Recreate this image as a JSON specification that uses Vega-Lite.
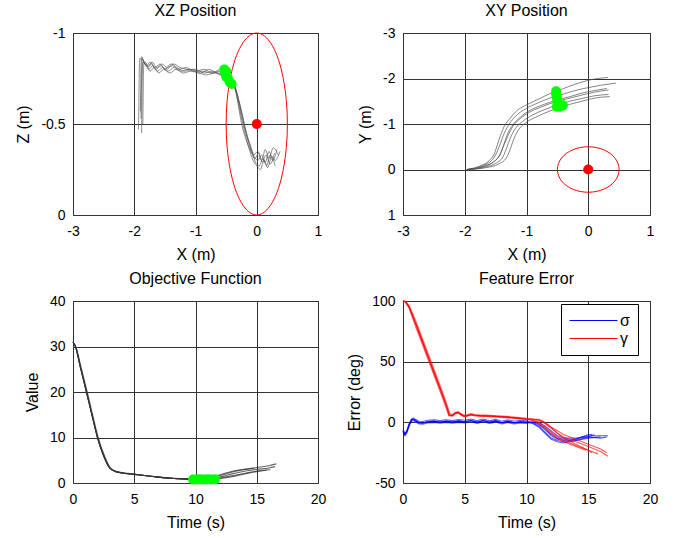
{
"$schema": "https://vega.github.io/schema/vega-lite/v6.json",
"padding": {"left": 15, "top": 2, "right": 5, "bottom": 5},
"columns": 2,
"spacing": {"row": 86, "column": 85},
"bounds": "flush",
"align": "each",
"resolve": {"scale": {"color": "independent"}, "legend": {"color": "independent"}},
"datasets": {
"xz": [
{"k":1,"i":0,"x":-1.93,"z":-0.47},{"k":1,"i":1,"x":-1.925,"z":-0.6},{"k":1,"i":2,"x":-1.92,"z":-0.75},{"k":1,"i":3,"x":-1.91,"z":-0.86},{"k":1,"i":4,"x":-1.86,"z":-0.85},{"k":1,"i":5,"x":-1.78,"z":-0.81},{"k":1,"i":6,"x":-1.72,"z":-0.83},{"k":1,"i":7,"x":-1.65,"z":-0.8},{"k":1,"i":8,"x":-1.56,"z":-0.82},{"k":1,"i":9,"x":-1.48,"z":-0.8},{"k":1,"i":10,"x":-1.38,"z":-0.82},{"k":1,"i":11,"x":-1.28,"z":-0.8},{"k":1,"i":12,"x":-1.15,"z":-0.81},{"k":1,"i":13,"x":-1.02,"z":-0.79},{"k":1,"i":14,"x":-0.88,"z":-0.79},{"k":1,"i":15,"x":-0.74,"z":-0.78},{"k":1,"i":16,"x":-0.6,"z":-0.79},{"k":1,"i":17,"x":-0.48,"z":-0.77},{"k":1,"i":18,"x":-0.4,"z":-0.73},{"k":1,"i":19,"x":-0.34,"z":-0.69},{"k":1,"i":20,"x":-0.28,"z":-0.61},{"k":1,"i":21,"x":-0.22,"z":-0.52},{"k":1,"i":22,"x":-0.16,"z":-0.44},{"k":1,"i":23,"x":-0.1,"z":-0.38},{"k":1,"i":24,"x":-0.04,"z":-0.32},{"k":1,"i":25,"x":0.02,"z":-0.3},{"k":1,"i":26,"x":0.08,"z":-0.33},{"k":1,"i":27,"x":0.14,"z":-0.29},{"k":1,"i":28,"x":0.2,"z":-0.35},{"k":1,"i":29,"x":0.26,"z":-0.3},{"k":1,"i":30,"x":0.33,"z":-0.36},
{"k":2,"i":0,"x":-1.88,"z":-0.45},{"k":2,"i":1,"x":-1.875,"z":-0.6},{"k":2,"i":2,"x":-1.87,"z":-0.76},{"k":2,"i":3,"x":-1.86,"z":-0.84},{"k":2,"i":4,"x":-1.82,"z":-0.84},{"k":2,"i":5,"x":-1.76,"z":-0.8},{"k":2,"i":6,"x":-1.7,"z":-0.82},{"k":2,"i":7,"x":-1.62,"z":-0.79},{"k":2,"i":8,"x":-1.54,"z":-0.81},{"k":2,"i":9,"x":-1.45,"z":-0.79},{"k":2,"i":10,"x":-1.35,"z":-0.81},{"k":2,"i":11,"x":-1.24,"z":-0.79},{"k":2,"i":12,"x":-1.12,"z":-0.8},{"k":2,"i":13,"x":-1.0,"z":-0.8},{"k":2,"i":14,"x":-0.86,"z":-0.78},{"k":2,"i":15,"x":-0.72,"z":-0.79},{"k":2,"i":16,"x":-0.58,"z":-0.77},{"k":2,"i":17,"x":-0.46,"z":-0.76},{"k":2,"i":18,"x":-0.38,"z":-0.72},{"k":2,"i":19,"x":-0.32,"z":-0.66},{"k":2,"i":20,"x":-0.26,"z":-0.57},{"k":2,"i":21,"x":-0.2,"z":-0.48},{"k":2,"i":22,"x":-0.14,"z":-0.41},{"k":2,"i":23,"x":-0.08,"z":-0.35},{"k":2,"i":24,"x":-0.02,"z":-0.29},{"k":2,"i":25,"x":0.04,"z":-0.27},{"k":2,"i":26,"x":0.1,"z":-0.31},{"k":2,"i":27,"x":0.16,"z":-0.27},{"k":2,"i":28,"x":0.22,"z":-0.33},{"k":2,"i":29,"x":0.3,"z":-0.3},{"k":2,"i":30,"x":0.38,"z":-0.35},
{"k":3,"i":0,"x":-1.9,"z":-0.57},{"k":3,"i":1,"x":-1.895,"z":-0.68},{"k":3,"i":2,"x":-1.89,"z":-0.8},{"k":3,"i":3,"x":-1.88,"z":-0.87},{"k":3,"i":4,"x":-1.84,"z":-0.84},{"k":3,"i":5,"x":-1.8,"z":-0.82},{"k":3,"i":6,"x":-1.74,"z":-0.84},{"k":3,"i":7,"x":-1.66,"z":-0.81},{"k":3,"i":8,"x":-1.58,"z":-0.83},{"k":3,"i":9,"x":-1.5,"z":-0.8},{"k":3,"i":10,"x":-1.4,"z":-0.83},{"k":3,"i":11,"x":-1.3,"z":-0.81},{"k":3,"i":12,"x":-1.18,"z":-0.79},{"k":3,"i":13,"x":-1.05,"z":-0.8},{"k":3,"i":14,"x":-0.92,"z":-0.78},{"k":3,"i":15,"x":-0.78,"z":-0.8},{"k":3,"i":16,"x":-0.64,"z":-0.78},{"k":3,"i":17,"x":-0.52,"z":-0.78},{"k":3,"i":18,"x":-0.42,"z":-0.74},{"k":3,"i":19,"x":-0.36,"z":-0.7},{"k":3,"i":20,"x":-0.31,"z":-0.63},{"k":3,"i":21,"x":-0.26,"z":-0.55},{"k":3,"i":22,"x":-0.2,"z":-0.46},{"k":3,"i":23,"x":-0.13,"z":-0.37},{"k":3,"i":24,"x":-0.06,"z":-0.3},{"k":3,"i":25,"x":0.0,"z":-0.27},{"k":3,"i":26,"x":0.06,"z":-0.25},{"k":3,"i":27,"x":0.12,"z":-0.3},{"k":3,"i":28,"x":0.18,"z":-0.26},{"k":3,"i":29,"x":0.24,"z":-0.32},{"k":3,"i":30,"x":0.3,"z":-0.27},
{"k":4,"i":0,"x":-1.86,"z":-0.5},{"k":4,"i":1,"x":-1.855,"z":-0.64},{"k":4,"i":2,"x":-1.85,"z":-0.78},{"k":4,"i":3,"x":-1.84,"z":-0.84},{"k":4,"i":4,"x":-1.8,"z":-0.82},{"k":4,"i":5,"x":-1.74,"z":-0.79},{"k":4,"i":6,"x":-1.68,"z":-0.81},{"k":4,"i":7,"x":-1.6,"z":-0.78},{"k":4,"i":8,"x":-1.52,"z":-0.8},{"k":4,"i":9,"x":-1.42,"z":-0.78},{"k":4,"i":10,"x":-1.32,"z":-0.8},{"k":4,"i":11,"x":-1.2,"z":-0.78},{"k":4,"i":12,"x":-1.08,"z":-0.79},{"k":4,"i":13,"x":-0.95,"z":-0.78},{"k":4,"i":14,"x":-0.82,"z":-0.77},{"k":4,"i":15,"x":-0.68,"z":-0.78},{"k":4,"i":16,"x":-0.55,"z":-0.76},{"k":4,"i":17,"x":-0.44,"z":-0.74},{"k":4,"i":18,"x":-0.37,"z":-0.71},{"k":4,"i":19,"x":-0.33,"z":-0.66},{"k":4,"i":20,"x":-0.29,"z":-0.58},{"k":4,"i":21,"x":-0.24,"z":-0.49},{"k":4,"i":22,"x":-0.18,"z":-0.42},{"k":4,"i":23,"x":-0.11,"z":-0.36},{"k":4,"i":24,"x":-0.05,"z":-0.33},{"k":4,"i":25,"x":0.02,"z":-0.35},{"k":4,"i":26,"x":0.08,"z":-0.3},{"k":4,"i":27,"x":0.14,"z":-0.36},{"k":4,"i":28,"x":0.2,"z":-0.31},{"k":4,"i":29,"x":0.27,"z":-0.37},{"k":4,"i":30,"x":0.35,"z":-0.33},
{"k":5,"i":0,"x":-1.89,"z":-0.53},{"k":5,"i":1,"x":-1.885,"z":-0.66},{"k":5,"i":2,"x":-1.88,"z":-0.79},{"k":5,"i":3,"x":-1.87,"z":-0.86},{"k":5,"i":4,"x":-1.83,"z":-0.83},{"k":5,"i":5,"x":-1.77,"z":-0.82},{"k":5,"i":6,"x":-1.71,"z":-0.84},{"k":5,"i":7,"x":-1.63,"z":-0.81},{"k":5,"i":8,"x":-1.55,"z":-0.83},{"k":5,"i":9,"x":-1.46,"z":-0.81},{"k":5,"i":10,"x":-1.36,"z":-0.83},{"k":5,"i":11,"x":-1.25,"z":-0.81},{"k":5,"i":12,"x":-1.13,"z":-0.8},{"k":5,"i":13,"x":-1.0,"z":-0.79},{"k":5,"i":14,"x":-0.86,"z":-0.8},{"k":5,"i":15,"x":-0.72,"z":-0.78},{"k":5,"i":16,"x":-0.6,"z":-0.8},{"k":5,"i":17,"x":-0.5,"z":-0.78},{"k":5,"i":18,"x":-0.43,"z":-0.75},{"k":5,"i":19,"x":-0.37,"z":-0.72},{"k":5,"i":20,"x":-0.3,"z":-0.64},{"k":5,"i":21,"x":-0.24,"z":-0.56},{"k":5,"i":22,"x":-0.19,"z":-0.48},{"k":5,"i":23,"x":-0.14,"z":-0.41},{"k":5,"i":24,"x":-0.09,"z":-0.35},{"k":5,"i":25,"x":-0.03,"z":-0.31},{"k":5,"i":26,"x":0.03,"z":-0.34},{"k":5,"i":27,"x":0.09,"z":-0.29},{"k":5,"i":28,"x":0.15,"z":-0.33},{"k":5,"i":29,"x":0.22,"z":-0.28},{"k":5,"i":30,"x":0.29,"z":-0.34}
],
"ellXZ": [
{"i":0,"x":0.5,"z":-0.5},{"i":1,"x":0.483,"z":-0.371},{"i":2,"x":0.433,"z":-0.25},{"i":3,"x":0.354,"z":-0.146},{"i":4,"x":0.25,"z":-0.067},{"i":5,"x":0.129,"z":-0.017},{"i":6,"x":0,"z":0},{"i":7,"x":-0.129,"z":-0.017},{"i":8,"x":-0.25,"z":-0.067},{"i":9,"x":-0.354,"z":-0.146},{"i":10,"x":-0.433,"z":-0.25},{"i":11,"x":-0.483,"z":-0.371},{"i":12,"x":-0.5,"z":-0.5},{"i":13,"x":-0.483,"z":-0.629},{"i":14,"x":-0.433,"z":-0.75},{"i":15,"x":-0.354,"z":-0.854},{"i":16,"x":-0.25,"z":-0.933},{"i":17,"x":-0.129,"z":-0.983},{"i":18,"x":0,"z":-1},{"i":19,"x":0.129,"z":-0.983},{"i":20,"x":0.25,"z":-0.933},{"i":21,"x":0.354,"z":-0.854},{"i":22,"x":0.433,"z":-0.75},{"i":23,"x":0.483,"z":-0.629}
],
"greenXZ": [
{"x":-0.53,"z":-0.8},{"x":-0.52,"z":-0.78},{"x":-0.5,"z":-0.76},{"x":-0.47,"z":-0.75},{"x":-0.44,"z":-0.73},{"x":-0.41,"z":-0.72},{"x":-0.5,"z":-0.79}
],
"targetXZ": [{"x":0,"z":-0.5}],
"xy": [
{"k":1,"i":0,"x":-1.97,"y":0.0},{"k":1,"i":1,"x":-1.75,"y":-0.08},{"k":1,"i":2,"x":-1.6,"y":-0.2},{"k":1,"i":3,"x":-1.52,"y":-0.35},{"k":1,"i":4,"x":-1.47,"y":-0.55},{"k":1,"i":5,"x":-1.42,"y":-0.75},{"k":1,"i":6,"x":-1.36,"y":-0.95},{"k":1,"i":7,"x":-1.27,"y":-1.12},{"k":1,"i":8,"x":-1.15,"y":-1.3},{"k":1,"i":9,"x":-1.0,"y":-1.42},{"k":1,"i":10,"x":-0.8,"y":-1.55},{"k":1,"i":11,"x":-0.6,"y":-1.68},{"k":1,"i":12,"x":-0.4,"y":-1.78},{"k":1,"i":13,"x":-0.2,"y":-1.88},{"k":1,"i":14,"x":0.0,"y":-1.96},{"k":1,"i":15,"x":0.15,"y":-2.0},{"k":1,"i":16,"x":0.32,"y":-2.02},
{"k":2,"i":0,"x":-1.97,"y":0.0},{"k":2,"i":1,"x":-1.72,"y":-0.08},{"k":2,"i":2,"x":-1.55,"y":-0.22},{"k":2,"i":3,"x":-1.48,"y":-0.38},{"k":2,"i":4,"x":-1.42,"y":-0.58},{"k":2,"i":5,"x":-1.36,"y":-0.8},{"k":2,"i":6,"x":-1.28,"y":-1.0},{"k":2,"i":7,"x":-1.17,"y":-1.18},{"k":2,"i":8,"x":-1.02,"y":-1.33},{"k":2,"i":9,"x":-0.82,"y":-1.46},{"k":2,"i":10,"x":-0.6,"y":-1.58},{"k":2,"i":11,"x":-0.4,"y":-1.66},{"k":2,"i":12,"x":-0.2,"y":-1.74},{"k":2,"i":13,"x":0.0,"y":-1.8},{"k":2,"i":14,"x":0.2,"y":-1.85},{"k":2,"i":15,"x":0.45,"y":-1.9},
{"k":3,"i":0,"x":-1.96,"y":0.0},{"k":3,"i":1,"x":-1.7,"y":-0.06},{"k":3,"i":2,"x":-1.52,"y":-0.18},{"k":3,"i":3,"x":-1.43,"y":-0.32},{"k":3,"i":4,"x":-1.37,"y":-0.52},{"k":3,"i":5,"x":-1.3,"y":-0.74},{"k":3,"i":6,"x":-1.22,"y":-0.95},{"k":3,"i":7,"x":-1.1,"y":-1.12},{"k":3,"i":8,"x":-0.95,"y":-1.26},{"k":3,"i":9,"x":-0.75,"y":-1.38},{"k":3,"i":10,"x":-0.55,"y":-1.48},{"k":3,"i":11,"x":-0.35,"y":-1.55},{"k":3,"i":12,"x":-0.15,"y":-1.62},{"k":3,"i":13,"x":0.1,"y":-1.7},{"k":3,"i":14,"x":0.33,"y":-1.75},
{"k":4,"i":0,"x":-1.95,"y":0.0},{"k":4,"i":1,"x":-1.68,"y":-0.05},{"k":4,"i":2,"x":-1.48,"y":-0.15},{"k":4,"i":3,"x":-1.38,"y":-0.28},{"k":4,"i":4,"x":-1.32,"y":-0.48},{"k":4,"i":5,"x":-1.26,"y":-0.7},{"k":4,"i":6,"x":-1.18,"y":-0.9},{"k":4,"i":7,"x":-1.06,"y":-1.06},{"k":4,"i":8,"x":-0.9,"y":-1.2},{"k":4,"i":9,"x":-0.7,"y":-1.32},{"k":4,"i":10,"x":-0.5,"y":-1.42},{"k":4,"i":11,"x":-0.3,"y":-1.5},{"k":4,"i":12,"x":-0.1,"y":-1.56},{"k":4,"i":13,"x":0.1,"y":-1.62},{"k":4,"i":14,"x":0.33,"y":-1.65},
{"k":5,"i":0,"x":-1.95,"y":0.0},{"k":5,"i":1,"x":-1.66,"y":-0.04},{"k":5,"i":2,"x":-1.45,"y":-0.12},{"k":5,"i":3,"x":-1.33,"y":-0.25},{"k":5,"i":4,"x":-1.27,"y":-0.42},{"k":5,"i":5,"x":-1.22,"y":-0.62},{"k":5,"i":6,"x":-1.14,"y":-0.85},{"k":5,"i":7,"x":-1.02,"y":-1.02},{"k":5,"i":8,"x":-0.85,"y":-1.15},{"k":5,"i":9,"x":-0.65,"y":-1.27},{"k":5,"i":10,"x":-0.45,"y":-1.37},{"k":5,"i":11,"x":-0.25,"y":-1.45},{"k":5,"i":12,"x":-0.05,"y":-1.52},{"k":5,"i":13,"x":0.15,"y":-1.58},{"k":5,"i":14,"x":0.35,"y":-1.6},
{"k":6,"i":0,"x":-1.96,"y":0.0},{"k":6,"i":1,"x":-1.7,"y":-0.07},{"k":6,"i":2,"x":-1.5,"y":-0.2},{"k":6,"i":3,"x":-1.42,"y":-0.36},{"k":6,"i":4,"x":-1.36,"y":-0.58},{"k":6,"i":5,"x":-1.3,"y":-0.8},{"k":6,"i":6,"x":-1.22,"y":-0.98},{"k":6,"i":7,"x":-1.1,"y":-1.15},{"k":6,"i":8,"x":-0.94,"y":-1.3},{"k":6,"i":9,"x":-0.74,"y":-1.42},{"k":6,"i":10,"x":-0.52,"y":-1.52},{"k":6,"i":11,"x":-0.3,"y":-1.6},{"k":6,"i":12,"x":-0.1,"y":-1.68},{"k":6,"i":13,"x":0.12,"y":-1.74},{"k":6,"i":14,"x":0.3,"y":-1.78}
],
"ellXY": [
{"i":0,"x":0.5,"y":0},{"i":1,"x":0.483,"y":0.129},{"i":2,"x":0.433,"y":0.25},{"i":3,"x":0.354,"y":0.354},{"i":4,"x":0.25,"y":0.433},{"i":5,"x":0.129,"y":0.483},{"i":6,"x":0,"y":0.5},{"i":7,"x":-0.129,"y":0.483},{"i":8,"x":-0.25,"y":0.433},{"i":9,"x":-0.354,"y":0.354},{"i":10,"x":-0.433,"y":0.25},{"i":11,"x":-0.483,"y":0.129},{"i":12,"x":-0.5,"y":0},{"i":13,"x":-0.483,"y":-0.129},{"i":14,"x":-0.433,"y":-0.25},{"i":15,"x":-0.354,"y":-0.354},{"i":16,"x":-0.25,"y":-0.433},{"i":17,"x":-0.129,"y":-0.483},{"i":18,"x":0,"y":-0.5},{"i":19,"x":0.129,"y":-0.483},{"i":20,"x":0.25,"y":-0.433},{"i":21,"x":0.354,"y":-0.354},{"i":22,"x":0.433,"y":-0.25},{"i":23,"x":0.483,"y":-0.129}
],
"greenXY": [
{"x":-0.52,"y":-1.72},{"x":-0.52,"y":-1.65},{"x":-0.51,"y":-1.58},{"x":-0.5,"y":-1.5},{"x":-0.49,"y":-1.44},{"x":-0.46,"y":-1.38},{"x":-0.41,"y":-1.41},{"x":-0.51,"y":-1.38}
],
"targetXY": [{"x":0,"y":0}],
"obj": [
{"k":1,"i":0,"t":0,"v":31},{"k":1,"i":1,"t":0.2,"v":30},{"k":1,"i":2,"t":0.6,"v":25.5},{"k":1,"i":3,"t":1.1,"v":20},{"k":1,"i":4,"t":1.5,"v":15.5},{"k":1,"i":5,"t":2,"v":10},{"k":1,"i":6,"t":2.5,"v":6},{"k":1,"i":7,"t":3,"v":3.3},{"k":1,"i":8,"t":3.5,"v":2.5},{"k":1,"i":9,"t":4,"v":2.2},{"k":1,"i":10,"t":5,"v":1.9},{"k":1,"i":11,"t":6,"v":1.6},{"k":1,"i":12,"t":7,"v":1.3},{"k":1,"i":13,"t":8,"v":1.05},{"k":1,"i":14,"t":9,"v":0.9},{"k":1,"i":15,"t":10,"v":0.85},{"k":1,"i":16,"t":11,"v":0.95},{"k":1,"i":17,"t":12,"v":1.6},{"k":1,"i":18,"t":13,"v":2.4},{"k":1,"i":19,"t":14,"v":3.0},{"k":1,"i":20,"t":15,"v":3.4},{"k":1,"i":21,"t":16,"v":3.8},{"k":1,"i":22,"t":16.6,"v":4.2},
{"k":2,"i":0,"t":0,"v":31},{"k":2,"i":1,"t":0.25,"v":29.8},{"k":2,"i":2,"t":0.7,"v":25},{"k":2,"i":3,"t":1.2,"v":19.6},{"k":2,"i":4,"t":1.6,"v":15},{"k":2,"i":5,"t":2.1,"v":9.6},{"k":2,"i":6,"t":2.6,"v":5.8},{"k":2,"i":7,"t":3.1,"v":3.2},{"k":2,"i":8,"t":3.6,"v":2.5},{"k":2,"i":9,"t":4,"v":2.3},{"k":2,"i":10,"t":5,"v":1.95},{"k":2,"i":11,"t":6,"v":1.6},{"k":2,"i":12,"t":7,"v":1.3},{"k":2,"i":13,"t":8,"v":1.1},{"k":2,"i":14,"t":9,"v":0.92},{"k":2,"i":15,"t":10,"v":0.85},{"k":2,"i":16,"t":11,"v":0.9},{"k":2,"i":17,"t":12,"v":1.3},{"k":2,"i":18,"t":13,"v":2.0},{"k":2,"i":19,"t":14,"v":2.6},{"k":2,"i":20,"t":15,"v":3.0},{"k":2,"i":21,"t":16,"v":3.3},{"k":2,"i":22,"t":16.5,"v":3.6},
{"k":3,"i":0,"t":0,"v":31},{"k":3,"i":1,"t":0.2,"v":30},{"k":3,"i":2,"t":0.6,"v":25.5},{"k":3,"i":3,"t":1.1,"v":20},{"k":3,"i":4,"t":1.5,"v":15.5},{"k":3,"i":5,"t":2,"v":10},{"k":3,"i":6,"t":2.5,"v":6},{"k":3,"i":7,"t":3,"v":3.3},{"k":3,"i":8,"t":3.5,"v":2.5},{"k":3,"i":9,"t":4,"v":2.2},{"k":3,"i":10,"t":5,"v":1.9},{"k":3,"i":11,"t":6,"v":1.6},{"k":3,"i":12,"t":7,"v":1.3},{"k":3,"i":13,"t":8,"v":1.05},{"k":3,"i":14,"t":9,"v":0.9},{"k":3,"i":15,"t":10,"v":0.85},{"k":3,"i":16,"t":11,"v":0.9},{"k":3,"i":17,"t":12,"v":1.1},{"k":3,"i":18,"t":13,"v":1.6},{"k":3,"i":19,"t":14,"v":2.1},{"k":3,"i":20,"t":15,"v":2.6},{"k":3,"i":21,"t":16.1,"v":2.9},
{"k":4,"i":0,"t":0,"v":31},{"k":4,"i":1,"t":0.2,"v":30},{"k":4,"i":2,"t":0.6,"v":25.5},{"k":4,"i":3,"t":1.1,"v":20},{"k":4,"i":4,"t":1.5,"v":15.5},{"k":4,"i":5,"t":2,"v":10},{"k":4,"i":6,"t":2.5,"v":6},{"k":4,"i":7,"t":3,"v":3.3},{"k":4,"i":8,"t":3.5,"v":2.5},{"k":4,"i":9,"t":4,"v":2.2},{"k":4,"i":10,"t":5,"v":1.9},{"k":4,"i":11,"t":6,"v":1.6},{"k":4,"i":12,"t":7,"v":1.3},{"k":4,"i":13,"t":8,"v":1.05},{"k":4,"i":14,"t":9,"v":0.9},{"k":4,"i":15,"t":10,"v":0.85},{"k":4,"i":16,"t":11,"v":1.0},{"k":4,"i":17,"t":12,"v":1.8},{"k":4,"i":18,"t":13,"v":2.6},{"k":4,"i":19,"t":14,"v":3.0},{"k":4,"i":20,"t":14.8,"v":3.2},
{"k":5,"i":0,"t":0,"v":31},{"k":5,"i":1,"t":0.2,"v":30},{"k":5,"i":2,"t":0.6,"v":25.5},{"k":5,"i":3,"t":1.1,"v":20},{"k":5,"i":4,"t":1.5,"v":15.5},{"k":5,"i":5,"t":2,"v":10},{"k":5,"i":6,"t":2.5,"v":6},{"k":5,"i":7,"t":3,"v":3.3},{"k":5,"i":8,"t":3.5,"v":2.5},{"k":5,"i":9,"t":4,"v":2.2},{"k":5,"i":10,"t":5,"v":1.9},{"k":5,"i":11,"t":6,"v":1.6},{"k":5,"i":12,"t":7,"v":1.3},{"k":5,"i":13,"t":8,"v":1.05},{"k":5,"i":14,"t":9,"v":0.9},{"k":5,"i":15,"t":10,"v":0.85},{"k":5,"i":16,"t":11,"v":0.85},{"k":5,"i":17,"t":12,"v":1.0},{"k":5,"i":18,"t":13,"v":1.4},{"k":5,"i":19,"t":14,"v":2.0},{"k":5,"i":20,"t":15,"v":2.5},{"k":5,"i":21,"t":15.8,"v":2.8}
],
"greenObj": [
{"t":9.8,"v":0.75},{"t":10.05,"v":0.75},{"t":10.3,"v":0.8},{"t":10.55,"v":0.75},{"t":10.8,"v":0.75},{"t":11.05,"v":0.8},{"t":11.3,"v":0.75},{"t":11.6,"v":0.8}
],
"feat": [
{"f":"σ","k":1,"i":0,"t":0,"e":-7},{"f":"σ","k":1,"i":1,"t":0.15,"e":-10},{"f":"σ","k":1,"i":2,"t":0.3,"e":-8},{"f":"σ","k":1,"i":3,"t":0.5,"e":-2},{"f":"σ","k":1,"i":4,"t":0.7,"e":2},{"f":"σ","k":1,"i":5,"t":0.85,"e":2.5},{"f":"σ","k":1,"i":6,"t":1.0,"e":1.5},{"f":"σ","k":1,"i":7,"t":1.3,"e":-0.3},{"f":"σ","k":1,"i":8,"t":1.6,"e":-0.5},{"f":"σ","k":1,"i":9,"t":2,"e":0.5},{"f":"σ","k":1,"i":10,"t":2.5,"e":0.8},{"f":"σ","k":1,"i":11,"t":3,"e":0.3},{"f":"σ","k":1,"i":12,"t":3.5,"e":0.8},{"f":"σ","k":1,"i":13,"t":4,"e":0.2},{"f":"σ","k":1,"i":14,"t":4.5,"e":1},{"f":"σ","k":1,"i":15,"t":5,"e":0.5},{"f":"σ","k":1,"i":16,"t":5.5,"e":1.5},{"f":"σ","k":1,"i":17,"t":6,"e":0},{"f":"σ","k":1,"i":18,"t":6.5,"e":1.5},{"f":"σ","k":1,"i":19,"t":7,"e":0},{"f":"σ","k":1,"i":20,"t":7.5,"e":1.2},{"f":"σ","k":1,"i":21,"t":8,"e":-0.3},{"f":"σ","k":1,"i":22,"t":8.5,"e":0.8},{"f":"σ","k":1,"i":23,"t":9,"e":-0.3},{"f":"σ","k":1,"i":24,"t":9.5,"e":0.5},{"f":"σ","k":1,"i":25,"t":10,"e":0},{"f":"σ","k":1,"i":26,"t":10.5,"e":0},{"f":"σ","k":1,"i":27,"t":11,"e":-1},{"f":"σ","k":1,"i":28,"t":11.5,"e":-5},{"f":"σ","k":1,"i":29,"t":12,"e":-10},{"f":"σ","k":1,"i":30,"t":12.5,"e":-13},{"f":"σ","k":1,"i":31,"t":13,"e":-14},{"f":"σ","k":1,"i":32,"t":13.5,"e":-15},{"f":"σ","k":1,"i":33,"t":14,"e":-14},{"f":"σ","k":1,"i":34,"t":14.5,"e":-12},{"f":"σ","k":1,"i":35,"t":15,"e":-11},{"f":"σ","k":1,"i":36,"t":16,"e":-11},{"f":"σ","k":1,"i":37,"t":16.6,"e":-11},
{"f":"σ","k":2,"i":0,"t":0,"e":-6},{"f":"σ","k":2,"i":1,"t":0.15,"e":-9},{"f":"σ","k":2,"i":2,"t":0.3,"e":-7},{"f":"σ","k":2,"i":3,"t":0.5,"e":-1},{"f":"σ","k":2,"i":4,"t":0.7,"e":3},{"f":"σ","k":2,"i":5,"t":0.85,"e":3.5},{"f":"σ","k":2,"i":6,"t":1.0,"e":2.5},{"f":"σ","k":2,"i":7,"t":1.3,"e":0.9},{"f":"σ","k":2,"i":8,"t":1.6,"e":0.7},{"f":"σ","k":2,"i":9,"t":2,"e":1.7},{"f":"σ","k":2,"i":10,"t":2.5,"e":2},{"f":"σ","k":2,"i":11,"t":3,"e":1.5},{"f":"σ","k":2,"i":12,"t":3.5,"e":2},{"f":"σ","k":2,"i":13,"t":4,"e":1.4},{"f":"σ","k":2,"i":14,"t":4.5,"e":2.2},{"f":"σ","k":2,"i":15,"t":5,"e":1.7},{"f":"σ","k":2,"i":16,"t":5.5,"e":2.7},{"f":"σ","k":2,"i":17,"t":6,"e":1.2},{"f":"σ","k":2,"i":18,"t":6.5,"e":2.7},{"f":"σ","k":2,"i":19,"t":7,"e":1.2},{"f":"σ","k":2,"i":20,"t":7.5,"e":2.4},{"f":"σ","k":2,"i":21,"t":8,"e":0.9},{"f":"σ","k":2,"i":22,"t":8.5,"e":2},{"f":"σ","k":2,"i":23,"t":9,"e":0.9},{"f":"σ","k":2,"i":24,"t":9.5,"e":1.7},{"f":"σ","k":2,"i":25,"t":10,"e":1.2},{"f":"σ","k":2,"i":26,"t":10.5,"e":-0.5},{"f":"σ","k":2,"i":27,"t":11,"e":-3},{"f":"σ","k":2,"i":28,"t":11.5,"e":-8},{"f":"σ","k":2,"i":29,"t":12,"e":-13},{"f":"σ","k":2,"i":30,"t":12.5,"e":-15},{"f":"σ","k":2,"i":31,"t":13,"e":-16},{"f":"σ","k":2,"i":32,"t":14,"e":-15},{"f":"σ","k":2,"i":33,"t":15,"e":-12},{"f":"σ","k":2,"i":34,"t":15.5,"e":-10},
{"f":"σ","k":3,"i":0,"t":0,"e":-8},{"f":"σ","k":3,"i":1,"t":0.15,"e":-11},{"f":"σ","k":3,"i":2,"t":0.3,"e":-9},{"f":"σ","k":3,"i":3,"t":0.5,"e":-3},{"f":"σ","k":3,"i":4,"t":0.7,"e":1},{"f":"σ","k":3,"i":5,"t":0.85,"e":1.5},{"f":"σ","k":3,"i":6,"t":1.0,"e":0.5},{"f":"σ","k":3,"i":7,"t":1.3,"e":-1.3},{"f":"σ","k":3,"i":8,"t":1.6,"e":-1.5},{"f":"σ","k":3,"i":9,"t":2,"e":-0.5},{"f":"σ","k":3,"i":10,"t":2.5,"e":-0.2},{"f":"σ","k":3,"i":11,"t":3,"e":-0.7},{"f":"σ","k":3,"i":12,"t":3.5,"e":-0.2},{"f":"σ","k":3,"i":13,"t":4,"e":-0.8},{"f":"σ","k":3,"i":14,"t":4.5,"e":0},{"f":"σ","k":3,"i":15,"t":5,"e":-0.5},{"f":"σ","k":3,"i":16,"t":5.5,"e":0.5},{"f":"σ","k":3,"i":17,"t":6,"e":-1},{"f":"σ","k":3,"i":18,"t":6.5,"e":0.5},{"f":"σ","k":3,"i":19,"t":7,"e":-1},{"f":"σ","k":3,"i":20,"t":7.5,"e":0.2},{"f":"σ","k":3,"i":21,"t":8,"e":-1.3},{"f":"σ","k":3,"i":22,"t":8.5,"e":-0.2},{"f":"σ","k":3,"i":23,"t":9,"e":-1.3},{"f":"σ","k":3,"i":24,"t":9.5,"e":-0.5},{"f":"σ","k":3,"i":25,"t":10,"e":-1},{"f":"σ","k":3,"i":26,"t":10.5,"e":0.5},{"f":"σ","k":3,"i":27,"t":11,"e":0},{"f":"σ","k":3,"i":28,"t":11.5,"e":-3},{"f":"σ","k":3,"i":29,"t":12,"e":-7},{"f":"σ","k":3,"i":30,"t":12.5,"e":-11},{"f":"σ","k":3,"i":31,"t":13,"e":-13},{"f":"σ","k":3,"i":32,"t":14,"e":-13},{"f":"σ","k":3,"i":33,"t":15,"e":-12},{"f":"σ","k":3,"i":34,"t":16,"e":-13},{"f":"σ","k":3,"i":35,"t":16.5,"e":-12},
{"f":"σ","k":4,"i":0,"t":0,"e":-7},{"f":"σ","k":4,"i":1,"t":0.15,"e":-10},{"f":"σ","k":4,"i":2,"t":0.3,"e":-8},{"f":"σ","k":4,"i":3,"t":0.5,"e":-2},{"f":"σ","k":4,"i":4,"t":0.7,"e":2},{"f":"σ","k":4,"i":5,"t":0.85,"e":2.5},{"f":"σ","k":4,"i":6,"t":1.0,"e":1.5},{"f":"σ","k":4,"i":7,"t":1.3,"e":-0.3},{"f":"σ","k":4,"i":8,"t":1.6,"e":-0.5},{"f":"σ","k":4,"i":9,"t":2,"e":0.5},{"f":"σ","k":4,"i":10,"t":2.5,"e":0.8},{"f":"σ","k":4,"i":11,"t":3,"e":0.3},{"f":"σ","k":4,"i":12,"t":3.5,"e":0.8},{"f":"σ","k":4,"i":13,"t":4,"e":0.2},{"f":"σ","k":4,"i":14,"t":4.5,"e":1},{"f":"σ","k":4,"i":15,"t":5,"e":0.5},{"f":"σ","k":4,"i":16,"t":5.5,"e":1.5},{"f":"σ","k":4,"i":17,"t":6,"e":0},{"f":"σ","k":4,"i":18,"t":6.5,"e":1.5},{"f":"σ","k":4,"i":19,"t":7,"e":0},{"f":"σ","k":4,"i":20,"t":7.5,"e":1.2},{"f":"σ","k":4,"i":21,"t":8,"e":-0.3},{"f":"σ","k":4,"i":22,"t":8.5,"e":0.8},{"f":"σ","k":4,"i":23,"t":9,"e":-0.3},{"f":"σ","k":4,"i":24,"t":9.5,"e":0.5},{"f":"σ","k":4,"i":25,"t":10,"e":0},{"f":"σ","k":4,"i":26,"t":10.5,"e":0},{"f":"σ","k":4,"i":27,"t":11,"e":-2},{"f":"σ","k":4,"i":28,"t":11.5,"e":-6},{"f":"σ","k":4,"i":29,"t":12,"e":-11},{"f":"σ","k":4,"i":30,"t":12.5,"e":-14},{"f":"σ","k":4,"i":31,"t":13,"e":-15},{"f":"σ","k":4,"i":32,"t":14,"e":-14},{"f":"σ","k":4,"i":33,"t":15,"e":-10},{"f":"σ","k":4,"i":34,"t":15.3,"e":-10},
{"f":"σ","k":5,"i":0,"t":0,"e":-7},{"f":"σ","k":5,"i":1,"t":0.15,"e":-10},{"f":"σ","k":5,"i":2,"t":0.3,"e":-8},{"f":"σ","k":5,"i":3,"t":0.5,"e":-2},{"f":"σ","k":5,"i":4,"t":0.7,"e":2},{"f":"σ","k":5,"i":5,"t":0.85,"e":2.5},{"f":"σ","k":5,"i":6,"t":1.0,"e":1.5},{"f":"σ","k":5,"i":7,"t":1.3,"e":-0.3},{"f":"σ","k":5,"i":8,"t":1.6,"e":-0.5},{"f":"σ","k":5,"i":9,"t":2,"e":0.5},{"f":"σ","k":5,"i":10,"t":2.5,"e":0.8},{"f":"σ","k":5,"i":11,"t":3,"e":0.3},{"f":"σ","k":5,"i":12,"t":3.5,"e":0.8},{"f":"σ","k":5,"i":13,"t":4,"e":0.2},{"f":"σ","k":5,"i":14,"t":4.5,"e":1},{"f":"σ","k":5,"i":15,"t":5,"e":0.5},{"f":"σ","k":5,"i":16,"t":5.5,"e":1.5},{"f":"σ","k":5,"i":17,"t":6,"e":0},{"f":"σ","k":5,"i":18,"t":6.5,"e":1.5},{"f":"σ","k":5,"i":19,"t":7,"e":0},{"f":"σ","k":5,"i":20,"t":7.5,"e":1.2},{"f":"σ","k":5,"i":21,"t":8,"e":-0.3},{"f":"σ","k":5,"i":22,"t":8.5,"e":0.8},{"f":"σ","k":5,"i":23,"t":9,"e":-0.3},{"f":"σ","k":5,"i":24,"t":9.5,"e":0.5},{"f":"σ","k":5,"i":25,"t":10,"e":0},{"f":"σ","k":5,"i":26,"t":10.5,"e":-1},{"f":"σ","k":5,"i":27,"t":11,"e":-4},{"f":"σ","k":5,"i":28,"t":11.5,"e":-9},{"f":"σ","k":5,"i":29,"t":12,"e":-14},{"f":"σ","k":5,"i":30,"t":12.5,"e":-16},{"f":"σ","k":5,"i":31,"t":13,"e":-17},{"f":"σ","k":5,"i":32,"t":14,"e":-15},{"f":"σ","k":5,"i":33,"t":15,"e":-13},{"f":"σ","k":5,"i":34,"t":16,"e":-12},
{"f":"γ","k":1,"i":0,"t":0,"e":100},{"f":"γ","k":1,"i":1,"t":0.2,"e":99.5},{"f":"γ","k":1,"i":2,"t":0.5,"e":95},{"f":"γ","k":1,"i":3,"t":1,"e":82},{"f":"γ","k":1,"i":4,"t":1.5,"e":68.5},{"f":"γ","k":1,"i":5,"t":2,"e":55},{"f":"γ","k":1,"i":6,"t":2.5,"e":41.5},{"f":"γ","k":1,"i":7,"t":3,"e":28},{"f":"γ","k":1,"i":8,"t":3.5,"e":14},{"f":"γ","k":1,"i":9,"t":3.75,"e":6},{"f":"γ","k":1,"i":10,"t":4,"e":5.5},{"f":"γ","k":1,"i":11,"t":4.2,"e":7.5},{"f":"γ","k":1,"i":12,"t":4.45,"e":8.2},{"f":"γ","k":1,"i":13,"t":4.7,"e":6.5},{"f":"γ","k":1,"i":14,"t":4.9,"e":5.2},{"f":"γ","k":1,"i":15,"t":5.2,"e":5.5},{"f":"γ","k":1,"i":16,"t":5.5,"e":6.5},{"f":"γ","k":1,"i":17,"t":5.8,"e":5.8},{"f":"γ","k":1,"i":18,"t":6.2,"e":5.5},{"f":"γ","k":1,"i":19,"t":7,"e":5.2},{"f":"γ","k":1,"i":20,"t":8,"e":4.6},{"f":"γ","k":1,"i":21,"t":9,"e":3.8},{"f":"γ","k":1,"i":22,"t":10,"e":2.8},{"f":"γ","k":1,"i":23,"t":10.5,"e":2.5},{"f":"γ","k":1,"i":24,"t":11,"e":1.5},{"f":"γ","k":1,"i":25,"t":11.5,"e":-1},{"f":"γ","k":1,"i":26,"t":12,"e":-5},{"f":"γ","k":1,"i":27,"t":12.5,"e":-9},{"f":"γ","k":1,"i":28,"t":13,"e":-12},{"f":"γ","k":1,"i":29,"t":14,"e":-16},{"f":"γ","k":1,"i":30,"t":15,"e":-20},{"f":"γ","k":1,"i":31,"t":16,"e":-24},{"f":"γ","k":1,"i":32,"t":16.6,"e":-28},
{"f":"γ","k":2,"i":0,"t":0,"e":100},{"f":"γ","k":2,"i":1,"t":0.2,"e":99.5},{"f":"γ","k":2,"i":2,"t":0.5,"e":96},{"f":"γ","k":2,"i":3,"t":1,"e":84.5},{"f":"γ","k":2,"i":4,"t":1.5,"e":71},{"f":"γ","k":2,"i":5,"t":2,"e":57.5},{"f":"γ","k":2,"i":6,"t":2.5,"e":44},{"f":"γ","k":2,"i":7,"t":3,"e":30.5},{"f":"γ","k":2,"i":8,"t":3.5,"e":16.5},{"f":"γ","k":2,"i":9,"t":3.8,"e":7},{"f":"γ","k":2,"i":10,"t":4,"e":6.5},{"f":"γ","k":2,"i":11,"t":4.2,"e":8},{"f":"γ","k":2,"i":12,"t":4.45,"e":8.8},{"f":"γ","k":2,"i":13,"t":4.7,"e":7.2},{"f":"γ","k":2,"i":14,"t":4.9,"e":6},{"f":"γ","k":2,"i":15,"t":5.2,"e":6.2},{"f":"γ","k":2,"i":16,"t":5.5,"e":7.2},{"f":"γ","k":2,"i":17,"t":5.8,"e":6.5},{"f":"γ","k":2,"i":18,"t":6.2,"e":6.2},{"f":"γ","k":2,"i":19,"t":7,"e":5.8},{"f":"γ","k":2,"i":20,"t":8,"e":5.2},{"f":"γ","k":2,"i":21,"t":9,"e":4.4},{"f":"γ","k":2,"i":22,"t":10,"e":3.4},{"f":"γ","k":2,"i":23,"t":10.5,"e":2.8},{"f":"γ","k":2,"i":24,"t":11,"e":2.5},{"f":"γ","k":2,"i":25,"t":11.5,"e":0},{"f":"γ","k":2,"i":26,"t":12,"e":-4},{"f":"γ","k":2,"i":27,"t":12.5,"e":-9},{"f":"γ","k":2,"i":28,"t":13,"e":-13},{"f":"γ","k":2,"i":29,"t":14,"e":-18},{"f":"γ","k":2,"i":30,"t":15,"e":-23},{"f":"γ","k":2,"i":31,"t":15.3,"e":-25},
{"f":"γ","k":3,"i":0,"t":0,"e":100},{"f":"γ","k":3,"i":1,"t":0.2,"e":99},{"f":"γ","k":3,"i":2,"t":0.5,"e":94},{"f":"γ","k":3,"i":3,"t":1,"e":79.5},{"f":"γ","k":3,"i":4,"t":1.5,"e":66},{"f":"γ","k":3,"i":5,"t":2,"e":52.5},{"f":"γ","k":3,"i":6,"t":2.5,"e":39},{"f":"γ","k":3,"i":7,"t":3,"e":25.5},{"f":"γ","k":3,"i":8,"t":3.5,"e":11.5},{"f":"γ","k":3,"i":9,"t":3.7,"e":5.5},{"f":"γ","k":3,"i":10,"t":4,"e":5},{"f":"γ","k":3,"i":11,"t":4.2,"e":7},{"f":"γ","k":3,"i":12,"t":4.45,"e":7.8},{"f":"γ","k":3,"i":13,"t":4.7,"e":6},{"f":"γ","k":3,"i":14,"t":4.9,"e":4.8},{"f":"γ","k":3,"i":15,"t":5.2,"e":5},{"f":"γ","k":3,"i":16,"t":5.5,"e":6},{"f":"γ","k":3,"i":17,"t":5.8,"e":5.2},{"f":"γ","k":3,"i":18,"t":6.2,"e":5},{"f":"γ","k":3,"i":19,"t":7,"e":4.7},{"f":"γ","k":3,"i":20,"t":8,"e":4.1},{"f":"γ","k":3,"i":21,"t":9,"e":3.3},{"f":"γ","k":3,"i":22,"t":10,"e":2.3},{"f":"γ","k":3,"i":23,"t":10.5,"e":2},{"f":"γ","k":3,"i":24,"t":11,"e":0},{"f":"γ","k":3,"i":25,"t":11.5,"e":-4},{"f":"γ","k":3,"i":26,"t":12,"e":-8},{"f":"γ","k":3,"i":27,"t":12.5,"e":-12},{"f":"γ","k":3,"i":28,"t":13,"e":-15},{"f":"γ","k":3,"i":29,"t":14,"e":-19},{"f":"γ","k":3,"i":30,"t":15,"e":-23},{"f":"γ","k":3,"i":31,"t":15.8,"e":-26},
{"f":"γ","k":4,"i":0,"t":0,"e":100},{"f":"γ","k":4,"i":1,"t":0.2,"e":99.5},{"f":"γ","k":4,"i":2,"t":0.5,"e":95},{"f":"γ","k":4,"i":3,"t":1,"e":82},{"f":"γ","k":4,"i":4,"t":1.5,"e":68.5},{"f":"γ","k":4,"i":5,"t":2,"e":55},{"f":"γ","k":4,"i":6,"t":2.5,"e":41.5},{"f":"γ","k":4,"i":7,"t":3,"e":28},{"f":"γ","k":4,"i":8,"t":3.5,"e":14},{"f":"γ","k":4,"i":9,"t":3.75,"e":6},{"f":"γ","k":4,"i":10,"t":4,"e":5.5},{"f":"γ","k":4,"i":11,"t":4.2,"e":7.5},{"f":"γ","k":4,"i":12,"t":4.45,"e":8.2},{"f":"γ","k":4,"i":13,"t":4.7,"e":6.5},{"f":"γ","k":4,"i":14,"t":4.9,"e":5.2},{"f":"γ","k":4,"i":15,"t":5.2,"e":5.5},{"f":"γ","k":4,"i":16,"t":5.5,"e":6.5},{"f":"γ","k":4,"i":17,"t":5.8,"e":5.8},{"f":"γ","k":4,"i":18,"t":6.2,"e":5.5},{"f":"γ","k":4,"i":19,"t":7,"e":5.2},{"f":"γ","k":4,"i":20,"t":8,"e":4.6},{"f":"γ","k":4,"i":21,"t":9,"e":3.8},{"f":"γ","k":4,"i":22,"t":10,"e":2.8},{"f":"γ","k":4,"i":23,"t":10.5,"e":2.6},{"f":"γ","k":4,"i":24,"t":11,"e":2},{"f":"γ","k":4,"i":25,"t":11.5,"e":-0.5},{"f":"γ","k":4,"i":26,"t":12,"e":-4},{"f":"γ","k":4,"i":27,"t":12.5,"e":-7},{"f":"γ","k":4,"i":28,"t":13,"e":-10},{"f":"γ","k":4,"i":29,"t":14,"e":-14},{"f":"γ","k":4,"i":30,"t":15,"e":-18},{"f":"γ","k":4,"i":31,"t":16,"e":-22},{"f":"γ","k":4,"i":32,"t":16.5,"e":-25},
{"f":"γ","k":5,"i":0,"t":0,"e":100},{"f":"γ","k":5,"i":1,"t":0.2,"e":99.5},{"f":"γ","k":5,"i":2,"t":0.5,"e":95},{"f":"γ","k":5,"i":3,"t":1,"e":82},{"f":"γ","k":5,"i":4,"t":1.5,"e":68.5},{"f":"γ","k":5,"i":5,"t":2,"e":55},{"f":"γ","k":5,"i":6,"t":2.5,"e":41.5},{"f":"γ","k":5,"i":7,"t":3,"e":28},{"f":"γ","k":5,"i":8,"t":3.5,"e":14},{"f":"γ","k":5,"i":9,"t":3.75,"e":6},{"f":"γ","k":5,"i":10,"t":4,"e":5.5},{"f":"γ","k":5,"i":11,"t":4.2,"e":7.5},{"f":"γ","k":5,"i":12,"t":4.45,"e":8.2},{"f":"γ","k":5,"i":13,"t":4.7,"e":6.5},{"f":"γ","k":5,"i":14,"t":4.9,"e":5.2},{"f":"γ","k":5,"i":15,"t":5.2,"e":5.5},{"f":"γ","k":5,"i":16,"t":5.5,"e":6.5},{"f":"γ","k":5,"i":17,"t":5.8,"e":5.8},{"f":"γ","k":5,"i":18,"t":6.2,"e":5.5},{"f":"γ","k":5,"i":19,"t":7,"e":5.2},{"f":"γ","k":5,"i":20,"t":8,"e":4.6},{"f":"γ","k":5,"i":21,"t":9,"e":3.8},{"f":"γ","k":5,"i":22,"t":10,"e":2.8},{"f":"γ","k":5,"i":23,"t":10.5,"e":1.5},{"f":"γ","k":5,"i":24,"t":11,"e":-1},{"f":"γ","k":5,"i":25,"t":11.5,"e":-5},{"f":"γ","k":5,"i":26,"t":12,"e":-9},{"f":"γ","k":5,"i":27,"t":12.5,"e":-13},{"f":"γ","k":5,"i":28,"t":13,"e":-16},{"f":"γ","k":5,"i":29,"t":14,"e":-20},{"f":"γ","k":5,"i":30,"t":14.8,"e":-23}
]
},
"concat": [
{
"width": 245, "height": 182,
"title": {"text": "XZ Position"},
"encoding": {
"x": {"field": "x", "type": "quantitative", "scale": {"domain": [-3, 1], "nice": false, "zero": false}, "axis": {"values": [-3, -2, -1, 0, 1], "title": "X (m)"}},
"y": {"field": "z", "type": "quantitative", "scale": {"domain": [-1, 0], "reverse": true, "nice": false, "zero": false}, "axis": {"values": [-1, -0.5, 0], "title": "Z (m)"}}
},
"layer": [
{"data": {"name": "xz"}, "mark": {"type": "line", "stroke": "#555555", "strokeWidth": 0.9, "opacity": 0.75, "interpolate": "monotone"}, "encoding": {"detail": {"field": "k", "type": "nominal"}, "order": {"field": "i", "type": "quantitative"}}},
{"data": {"name": "ellXZ"}, "mark": {"type": "line", "stroke": "#ff0000", "strokeWidth": 1, "interpolate": "cardinal-closed"}, "encoding": {"order": {"field": "i", "type": "quantitative"}}},
{"data": {"name": "greenXZ"}, "mark": {"type": "circle", "fill": "#00ff00", "size": 100, "opacity": 1}},
{"data": {"name": "targetXZ"}, "mark": {"type": "circle", "fill": "#ff0000", "size": 100, "opacity": 1}}
]
},
{
"width": 247, "height": 182,
"title": {"text": "XY Position"},
"encoding": {
"x": {"field": "x", "type": "quantitative", "scale": {"domain": [-3, 1], "nice": false, "zero": false}, "axis": {"values": [-3, -2, -1, 0, 1], "title": "X (m)"}},
"y": {"field": "y", "type": "quantitative", "scale": {"domain": [-3, 1], "reverse": true, "nice": false, "zero": false}, "axis": {"values": [-3, -2, -1, 0, 1], "title": "Y (m)"}}
},
"layer": [
{"data": {"name": "xy"}, "mark": {"type": "line", "stroke": "#555555", "strokeWidth": 0.9, "opacity": 0.8, "interpolate": "monotone"}, "encoding": {"detail": {"field": "k", "type": "nominal"}, "order": {"field": "i", "type": "quantitative"}}},
{"data": {"name": "ellXY"}, "mark": {"type": "line", "stroke": "#ff0000", "strokeWidth": 1, "interpolate": "cardinal-closed"}, "encoding": {"order": {"field": "i", "type": "quantitative"}}},
{"data": {"name": "greenXY"}, "mark": {"type": "circle", "fill": "#00ff00", "size": 100, "opacity": 1}},
{"data": {"name": "targetXY"}, "mark": {"type": "circle", "fill": "#ff0000", "size": 100, "opacity": 1}}
]
},
{
"width": 245, "height": 182,
"title": {"text": "Objective Function"},
"encoding": {
"x": {"field": "t", "type": "quantitative", "scale": {"domain": [0, 20], "nice": false, "zero": false}, "axis": {"values": [0, 5, 10, 15, 20], "title": "Time (s)"}},
"y": {"field": "v", "type": "quantitative", "scale": {"domain": [0, 40], "nice": false, "zero": false}, "axis": {"values": [0, 10, 20, 30, 40], "title": "Value"}}
},
"layer": [
{"data": {"name": "obj"}, "mark": {"type": "line", "stroke": "#333333", "strokeWidth": 1.1, "opacity": 0.75, "interpolate": "monotone"}, "encoding": {"detail": {"field": "k", "type": "nominal"}, "order": {"field": "i", "type": "quantitative"}}},
{"data": {"name": "greenObj"}, "mark": {"type": "circle", "fill": "#00ff00", "size": 100, "opacity": 1}}
]
},
{
"width": 247, "height": 182,
"title": {"text": "Feature Error"},
"data": {"name": "feat"},
"mark": {"type": "line", "strokeWidth": 1.1, "opacity": 0.65},
"encoding": {
"x": {"field": "t", "type": "quantitative", "scale": {"domain": [0, 20], "nice": false, "zero": false}, "axis": {"values": [0, 5, 10, 15, 20], "title": "Time (s)"}},
"y": {"field": "e", "type": "quantitative", "scale": {"domain": [-50, 100], "nice": false, "zero": false}, "axis": {"values": [-50, 0, 50, 100], "title": "Error (deg)"}},
"color": {"field": "f", "type": "nominal", "scale": {"domain": ["σ", "γ"], "range": ["#0000ff", "#ff0000"]},
  "legend": {"orient": "none", "legendX": 158, "legendY": 3, "title": null, "symbolType": "M-1,0H5", "symbolSize": 256, "symbolStrokeWidth": 1, "symbolOpacity": 1, "symbolFillColor": "transparent", "labelFontSize": 16, "labelOffset": 34, "strokeColor": "#000000", "fillColor": "#ffffff", "padding": 8, "rowPadding": 1}},
"detail": {"field": "k", "type": "nominal"},
"order": {"field": "i", "type": "quantitative"}
}
}
],
"config": {
"font": "Liberation Sans",
"view": {"stroke": "#333333", "strokeWidth": 1},
"axis": {"grid": true, "gridColor": "#333333", "gridOpacity": 1, "gridWidth": 1, "ticks": false, "tickSize": 0, "domain": false, "labelFontSize": 14, "labelColor": "#000000", "labelFlush": false, "labelOverlap": false, "labelBound": false, "titleFontSize": 16, "titleFontWeight": "normal", "titleColor": "#000000", "labelExpr": "replace(toString(datum.value), '−', '-')"},
"axisX": {"labelPadding": 9, "titlePadding": 8},
"axisY": {"labelPadding": 8, "titlePadding": 9},
"title": {"fontSize": 16, "fontWeight": "normal", "color": "#000000", "frame": "group", "anchor": "middle", "baseline": "alphabetic", "offset": 7},
"legend": {"labelColor": "#000000"}
}
}
